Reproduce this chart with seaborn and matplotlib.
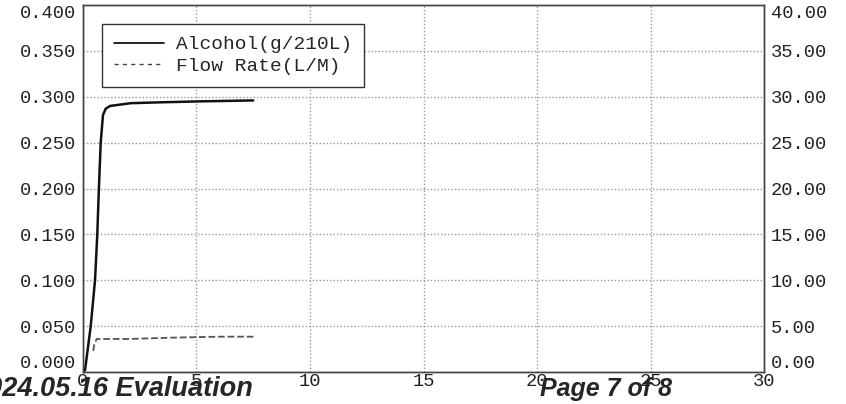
import pandas as pd
import seaborn as sns
import matplotlib.pyplot as plt

# Values
alc_time = [0.0, 0.09, 0.34, 0.53, 0.63, 0.70, 0.78, 0.88, 1.0, 1.2, 2.1, 3.5, 5.2, 7.5]
alc_value = [0.0, 0.002, 0.05, 0.10, 0.15, 0.20, 0.25, 0.28, 0.287, 0.290, 0.293, 0.294, 0.295, 0.296]
flow_time = [0.45, 0.5, 0.6, 2.0, 4.0, 6.0, 7.5]
flow_value = [2.3, 3.0, 3.6, 3.6, 3.75, 3.85, 3.85]

x_ticks = [0, 5, 10, 15, 20, 25, 30]
left_ticks = [0.0, 0.05, 0.10, 0.15, 0.20, 0.25, 0.30, 0.35, 0.40]
right_ticks = [0, 5, 10, 15, 20, 25, 30, 35, 40]

alc = pd.DataFrame({'t': alc_time, 'v': alc_value})
flow = pd.DataFrame({'t': flow_time, 'v': flow_value})

sns.set_style('white')
plt.rcParams['font.family'] = ['Liberation Mono', 'DejaVu Sans Mono']

fig = plt.figure(figsize=(8.46, 4.04), dpi=100)
ax = fig.add_axes([0.0981, 0.0792, 0.805, 0.9084])
ax2 = ax.twinx()

sns.lineplot(data=alc, x='t', y='v', ax=ax, color='#111111', linewidth=1.8,
             estimator=None, sort=False, legend=False)
sns.lineplot(data=flow, x='t', y='v', ax=ax2, color='#555555', linewidth=1.3,
             linestyle='--', dashes=(5, 3), estimator=None, sort=False, legend=False)

ax.set_xlim(0, 30)
ax.set_ylim(0, 0.4)
ax2.set_ylim(0, 40)
ax.set_xticks(x_ticks)
ax.set_yticks(left_ticks)
ax2.set_yticks(right_ticks)
ax.set_yticklabels([f'{v:.3f}' for v in left_ticks])
ax2.set_yticklabels([f'{v:.2f}' for v in right_ticks])
ax.set_xticklabels([str(v) for v in x_ticks])
ax.set_xlabel('')
ax.set_ylabel('')
ax2.set_ylabel('')

# end labels sit inside the axis span, as in the source printout
for a in (ax, ax2):
    labs = a.get_yticklabels()
    labs[0].set_va('bottom')
    labs[-1].set_va('top')

ax.grid(True, color='#999999', linestyle=(0, (1, 1.5)), linewidth=1.0)
ax.tick_params(axis='both', length=0, labelsize=13.5, colors='#222222')
ax.tick_params(axis='y', pad=5)
ax.tick_params(axis='x', pad=1)
ax2.tick_params(axis='y', length=0, labelsize=13.5, colors='#222222', pad=5)
for a in (ax, ax2):
    for s in a.spines.values():
        s.set_color('#444444')
        s.set_linewidth(1.0)

handles = [plt.Line2D([], [], color='black', linewidth=1.2),
           plt.Line2D([], [], color='#444444', linewidth=1.0, linestyle='--', dashes=(3, 3))]
leg = ax.legend(handles, ['Alcohol(g/210L)', 'Flow Rate(L/M)'],
                loc='upper left', bbox_to_anchor=(0.028, 0.948), fontsize=14,
                frameon=True, fancybox=False, edgecolor='#333333', framealpha=1,
                borderpad=0.6, labelspacing=0.2, handlelength=2.6, handletextpad=0.6,
                borderaxespad=0)
leg.get_frame().set_linewidth(1.0)

# overlaid footer text
fig.text(253 / 846, 15 / 404, '2024.05.16 Evaluation', ha='right', va='center',
         fontsize=19.5, fontweight='bold', fontstyle='italic', family='Liberation Sans')
fig.text(540 / 846, 15 / 404, 'Page 7 of 8', ha='left', va='center',
         fontsize=18, fontweight='bold', fontstyle='italic', family='Liberation Sans')

fig.savefig('out.png', dpi=100)
